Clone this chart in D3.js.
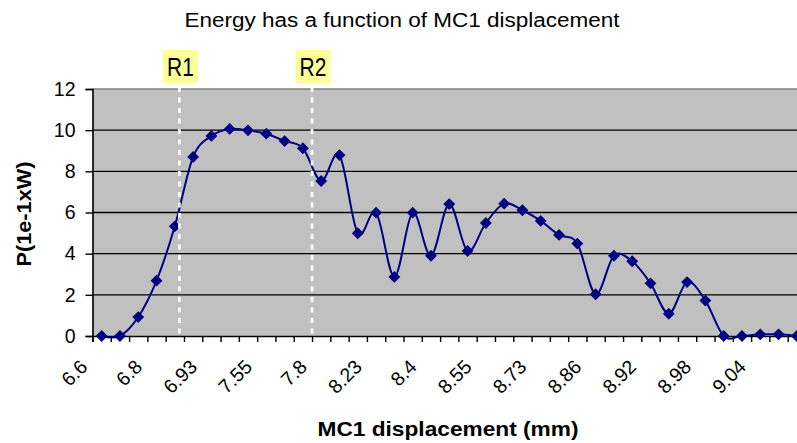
<!DOCTYPE html>
<html>
<head>
<meta charset="utf-8">
<script src="https://cdn.jsdelivr.net/npm/d3@7"></script>
<style>
  html, body { margin: 0; padding: 0; background: #fff; }
  svg { display: block; }
  text { font-family: "Liberation Sans", Arial, sans-serif; fill: #000; }
</style>
</head>
<body>
<div id="chart"></div>
<script>
// Measured power (1e-1 x W) at each MC1 displacement step
const power = [
  0, 0, 0.92, 2.69, 5.33, 8.70, 9.72, 10.06, 9.99, 9.83,
  9.47, 9.12, 7.53, 8.79, 4.99, 5.99, 2.87, 5.99, 3.90, 6.41,
  4.13, 5.49, 6.43, 6.11, 5.59, 4.91, 4.49, 2.03, 3.90, 3.63,
  2.56, 1.08, 2.62, 1.72, 0, 0, 0.08, 0.08, 0
];
// Displacement labels (mm), one on every third step
const tickLabels = ["6.6", "6.8", "6.93", "7.55", "7.8", "8.23", "8.4",
                    "8.55", "8.73", "8.86", "8.92", "8.98", "9.04"];
const labelEvery = 3;
const yTicks = [0, 2, 4, 6, 8, 10, 12];
// Region markers, placed in step units
const regionNames = ["R1", "R2"];
const regionSteps = [4.25, 11.5];

const W = 797, H = 443;
const plot = { left: 92.5, right: 806, top: 89, bottom: 336 };

const svg = d3.select("#chart").append("svg")
  .attr("width", W).attr("height", H);

const x = d3.scaleLinear()
  .domain([-0.5, power.length - 0.5])
  .range([plot.left, plot.right]);
const y = d3.scaleLinear().domain([0, 12]).range([plot.bottom, plot.top]);

// Plot area
svg.append("rect")
  .attr("x", plot.left).attr("y", plot.top)
  .attr("width", plot.right - plot.left).attr("height", plot.bottom - plot.top)
  .attr("fill", "#c0c0c0");
svg.append("line")
  .attr("x1", plot.left).attr("x2", plot.right)
  .attr("y1", plot.top).attr("y2", plot.top)
  .attr("stroke", "#808080").attr("stroke-width", 1.5);

// Horizontal gridlines
svg.append("g").selectAll("line")
  .data(yTicks.filter(d => d > 0 && d < 12))
  .join("line")
  .attr("x1", plot.left).attr("x2", plot.right)
  .attr("y1", d => y(d)).attr("y2", d => y(d))
  .attr("stroke", "#000").attr("stroke-width", 1.4);

// Y axis
const yAxis = d3.axisLeft(y).tickValues(yTicks).tickSize(7).tickPadding(10)
  .tickFormat(d3.format("d"));
const gy = svg.append("g").attr("transform", `translate(${plot.left},0)`).call(yAxis);
gy.select(".domain").attr("stroke", "#000").attr("stroke-width", 1.6);
gy.selectAll(".tick line").attr("stroke", "#000").attr("stroke-width", 1.4);
gy.selectAll(".tick text")
  .style("font-family", "'Liberation Sans', Arial, sans-serif")
  .style("font-size", "19.5px").attr("fill", "#000");

// X axis: tick marks on step boundaries
const boundaries = d3.range(power.length + 1).map(i => i - 0.5);
const gx = svg.append("g").attr("transform", `translate(0,${plot.bottom})`)
  .call(d3.axisBottom(x).tickValues(boundaries).tickSize(6).tickFormat(""));
gx.select(".domain").attr("stroke", "#000").attr("stroke-width", 1.6);
gx.selectAll(".tick line").attr("stroke", "#000").attr("stroke-width", 1.4);

// Rotated category labels
svg.append("g").selectAll("text")
  .data(tickLabels)
  .join("text")
  .attr("transform", (d, i) => `translate(${x(i * labelEvery) - 13},${plot.bottom + 32}) rotate(-45)`)
  .attr("text-anchor", "end")
  .style("font-size", "19.5px")
  .text(d => d);

// Series: smoothed line with diamond markers
const line = d3.line()
  .x((d, i) => x(i))
  .y(d => y(d))
  .curve(d3.curveCardinal.tension(0));
svg.append("path")
  .datum(power)
  .attr("d", line)
  .attr("fill", "none")
  .attr("stroke", "#000080")
  .attr("stroke-width", 2);

const diamond = d3.symbol().type(d3.symbolSquare).size(70);
svg.append("g").selectAll("path")
  .data(power)
  .join("path")
  .attr("d", diamond)
  .attr("transform", (d, i) => `translate(${x(i)},${y(d)}) rotate(45)`)
  .attr("fill", "#000080");

// Region markers: dashed white lines with highlighted labels
const regions = svg.append("g");
regionSteps.forEach((s, k) => {
  const xr = x(s);
  regions.append("line")
    .attr("x1", xr).attr("x2", xr)
    .attr("y1", plot.top - 2).attr("y2", plot.bottom)
    .attr("stroke", "#fff").attr("stroke-width", 2.6)
    .attr("stroke-dasharray", "5,5.5");
  regions.append("rect")
    .attr("x", xr - 16.5).attr("y", 50)
    .attr("width", 35).attr("height", 33)
    .attr("fill", "#ffff99");
  regions.append("text")
    .attr("transform", `translate(${xr + 1},76) scale(1,1.2)`)
    .attr("text-anchor", "middle")
    .style("font-size", "21px")
    .text(regionNames[k]);
});

// Titles
svg.append("text")
  .attr("x", 402).attr("y", 27)
  .attr("text-anchor", "middle")
  .attr("textLength", 435).attr("lengthAdjust", "spacingAndGlyphs")
  .style("font-size", "19.5px")
  .text("Energy has a function of MC1 displacement");

svg.append("text")
  .attr("x", 448).attr("y", 436)
  .attr("text-anchor", "middle")
  .attr("textLength", 261).attr("lengthAdjust", "spacingAndGlyphs")
  .style("font-size", "19.5px").style("font-weight", "bold")
  .text("MC1 displacement (mm)");

svg.append("text")
  .attr("transform", "translate(31,214) rotate(-90)")
  .attr("text-anchor", "middle")
  .attr("textLength", 105).attr("lengthAdjust", "spacingAndGlyphs")
  .style("font-size", "19.5px").style("font-weight", "bold")
  .text("P(1e-1xW)");
</script>
</body>
</html>
